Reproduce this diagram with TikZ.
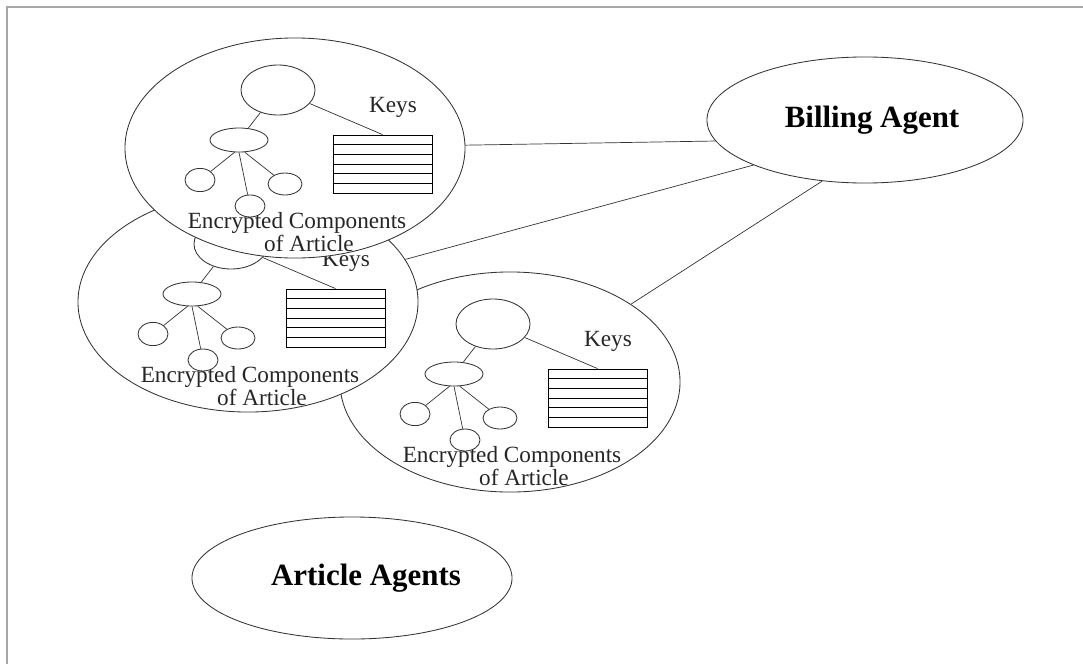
\documentclass[tikz,border=0pt]{standalone}
\usepackage{fontspec}
\setmainfont{Liberation Serif}
\usetikzlibrary{shapes.geometric,backgrounds}

\tikzset{
  outline/.style={draw=black!80, line width=0.6pt},
  blob/.style={outline, ellipse, inner sep=0pt},
  agentgroup/.style={blob, fill=white, minimum width=8.5cm, minimum height=5.5cm},
  agent/.style={blob, fill=white, font=\fontsize{22}{24}\selectfont\bfseries},
  leaf/.style={blob, minimum width=0.75cm, minimum height=0.58cm},
  wire/.style={draw=black!80, line width=0.5pt},
  txt/.style={inner sep=0pt, text=black!85, font=\fontsize{16.5}{15}\selectfont},
  pics/compgroup/.style={code={
    % component tree
    \node[blob, minimum width=1.85cm, minimum height=1.25cm] (-root) at (-17,-58) {};
    \node[blob, minimum width=1.45cm, minimum height=0.6cm] (-part) at (-56,-8) {};
    \node[leaf] (-lefty) at (-95,32) {};
    \node[leaf, minimum height=0.55cm] (-down) at (-45,58) {};
    \node[leaf, minimum width=0.85cm, minimum height=0.55cm] (-righty) at (-10,36) {};
    \draw[wire] (-root) -- (-part);
    \draw[wire] (-part.250) -- (-lefty);
    \draw[wire] (-part.south) -- (-down);
    \draw[wire] (-part.295) -- (-righty);
    % key table
    \node[draw=black, line width=0.6pt, minimum width=2.475cm, minimum height=1.45cm, inner sep=0pt] (-keys) at (87.5,16) {};
    \foreach \yy in {-3.33,6.33,16,25.67,35.33}
      \draw[black, line width=0.6pt] (38,\yy) -- (137,\yy);
    \draw[wire] (-root) -- (-keys.north);
    \node[txt] (-keyname) at (98,-41) {Keys};
    \node[txt, align=center] (-caption) at (2,84) {Encrypted Components\\\hspace*{0.6cm}of Article};
  }}
}

\begin{document}
\begin{tikzpicture}[x=0.025cm, y=-0.025cm]
  \useasboundingbox (0,0) rectangle (1083,664);
  % frame
  \draw[gray!70, line width=1.4pt] (7,664) -- (7,7) -- (1083,7);

  % billing agent
  \node[agent, minimum width=7.9cm, minimum height=3.15cm] (bill) at (865,120) {\hspace*{0.35cm}Billing Agent};

  % article groups, back to front
  \node[agentgroup] (art3) at (510,382) {};
  \pic (g3) at (art3) {compgroup};
  \node[agentgroup] (art2) at (248,302) {};
  \pic (g2) at (art2) {compgroup};
  \node[agentgroup] (art1) at (295,148) {};
  \pic (g1) at (art1) {compgroup};

  \node[agent, minimum width=8cm, minimum height=3.05cm] (artag) at (352,578) {\hspace*{0.7cm}Article Agents};

  % links to billing agent
  \begin{scope}[on background layer]
    \draw[wire] (bill.188) -- (art1);
    \draw[wire] (bill.202) -- (art2);
    \draw[wire] (bill.235) -- (art3);
  \end{scope}
\end{tikzpicture}
\end{document}
